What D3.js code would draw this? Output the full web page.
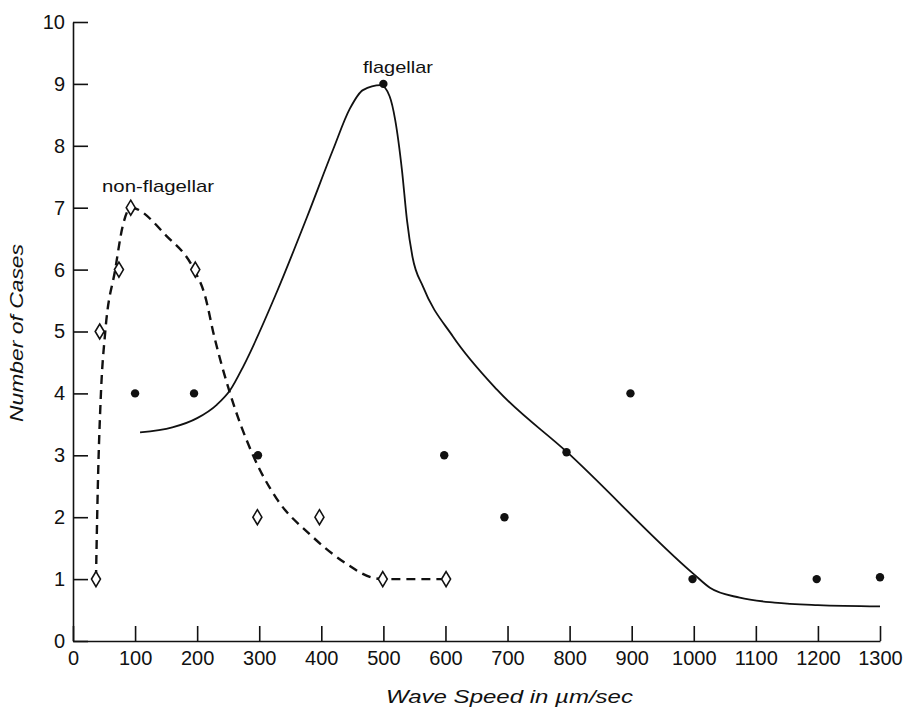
<!DOCTYPE html>
<html>
<head>
<meta charset="utf-8">
<script src="https://cdn.jsdelivr.net/npm/d3@7"></script>
<style>
  body { margin: 0; background: #fff; }
  text { font-family: "Liberation Sans", Arial, Helvetica, sans-serif; fill: #111; }
</style>
</head>
<body>
<div id="chart"></div>
<script>
// observed points
const nonFlagSpeed = [37, 43, 74, 93, 197, 297, 397, 499, 601];
const nonFlagCases = [1, 5, 6, 7, 6, 2, 2, 1, 1];
const flagSpeed = [100, 195, 298, 500, 598, 695, 795, 898, 998, 1198, 1300];
const flagCases = [4, 4, 3, 9, 3, 2, 3.05, 4, 1, 1, 1.03];

// hand-drawn fitted curves
const nonFlagCurveX = [37, 40, 45, 52, 68, 80, 93, 150, 195, 212, 228, 253, 290, 328, 382, 440, 480, 500, 601];
const nonFlagCurveY = [1.0, 2.5, 4.0, 5.0, 6.0, 6.7, 7.0, 6.55, 6.0, 5.6, 4.9, 4.0, 3.0, 2.3, 1.72, 1.25, 1.03, 1.0, 1.0];
const flagCurveX = [108, 160, 200, 232, 253, 275, 328, 377, 419, 446, 467, 496, 510, 519, 530, 538, 547, 564, 612, 683, 796, 1000, 1026, 1074, 1130, 1200, 1300];
const flagCurveY = [3.37, 3.45, 3.6, 3.82, 4.05, 4.45, 5.63, 6.85, 7.94, 8.6, 8.9, 8.98, 8.8, 8.42, 7.6, 6.8, 6.2, 5.72, 4.92, 4.06, 3.05, 1.08, 0.86, 0.7, 0.62, 0.58, 0.56];

const xTicks = [0, 100, 200, 300, 400, 500, 600, 700, 800, 900, 1000, 1100, 1200, 1300];
const yTicks = [0, 1, 2, 3, 4, 5, 6, 7, 8, 9, 10];

const width = 907, height = 710;

const svg = d3.select("#chart")
  .append("svg")
  .attr("width", width)
  .attr("height", height);

svg.append("rect").attr("width", width).attr("height", height).attr("fill", "#fff");

const x = d3.scaleLinear().domain([0, 1300]).range([73, 880]);
const y = d3.scaleLinear().domain([0, 10]).range([641, 22]);

// axes
const xAxis = svg.append("g")
  .attr("transform", `translate(0,${y(0)})`)
  .call(d3.axisBottom(x).tickValues(xTicks).tickFormat(d3.format("d"))
    .tickSizeInner(-15).tickSizeOuter(0).tickPadding(10));

const yAxis = svg.append("g")
  .attr("transform", `translate(${x(0)},0)`)
  .call(d3.axisLeft(y).tickValues(yTicks).tickFormat(d3.format("d"))
    .tickSizeInner(-15).tickSizeOuter(0).tickPadding(8));

[xAxis, yAxis].forEach(g => {
  g.selectAll("path, line").attr("stroke", "#111").attr("stroke-width", 1.6);
  g.selectAll("text").style("font-size", "20px").attr("fill", "#111");
});

// curves
const line = d3.line().curve(d3.curveMonotoneX);

svg.append("path")
  .attr("d", line(nonFlagCurveX.map((d, i) => [x(d), y(nonFlagCurveY[i])])))
  .attr("fill", "none")
  .attr("stroke", "#111")
  .attr("stroke-width", 2.4)
  .attr("stroke-dasharray", "9,6");

svg.append("path")
  .attr("d", line(flagCurveX.map((d, i) => [x(d), y(flagCurveY[i])])))
  .attr("fill", "none")
  .attr("stroke", "#111")
  .attr("stroke-width", 1.8);

// markers
svg.selectAll(".dot")
  .data(flagSpeed)
  .enter()
  .append("circle")
  .attr("class", "dot")
  .attr("cx", d => x(d))
  .attr("cy", (d, i) => y(flagCases[i]))
  .attr("r", 4.2)
  .attr("fill", "#111");

svg.selectAll(".diamond")
  .data(nonFlagSpeed)
  .enter()
  .append("path")
  .attr("class", "diamond")
  .attr("transform", (d, i) => `translate(${x(d)},${y(nonFlagCases[i])})`)
  .attr("d", "M0,-7.5L4.5,0L0,7.5L-4.5,0Z")
  .attr("fill", "#fff")
  .attr("stroke", "#111")
  .attr("stroke-width", 1.6);

// labels
svg.append("text")
  .attr("x", 102)
  .attr("y", 192)
  .attr("textLength", 112)
  .attr("lengthAdjust", "spacingAndGlyphs")
  .style("font-size", "17px")
  .text("non-flagellar");

svg.append("text")
  .attr("x", 363)
  .attr("y", 73)
  .attr("textLength", 70)
  .attr("lengthAdjust", "spacingAndGlyphs")
  .style("font-size", "17px")
  .text("flagellar");

svg.append("text")
  .attr("x", 386)
  .attr("y", 703)
  .attr("textLength", 247)
  .attr("lengthAdjust", "spacingAndGlyphs")
  .style("font-size", "19px")
  .style("font-style", "italic")
  .text("Wave Speed in µm/sec");

svg.append("text")
  .attr("transform", "translate(23,422) rotate(-90)")
  .attr("x", 0)
  .attr("y", 0)
  .attr("textLength", 178)
  .attr("lengthAdjust", "spacingAndGlyphs")
  .style("font-size", "19px")
  .style("font-style", "italic")
  .text("Number of Cases");
</script>
</body>
</html>
